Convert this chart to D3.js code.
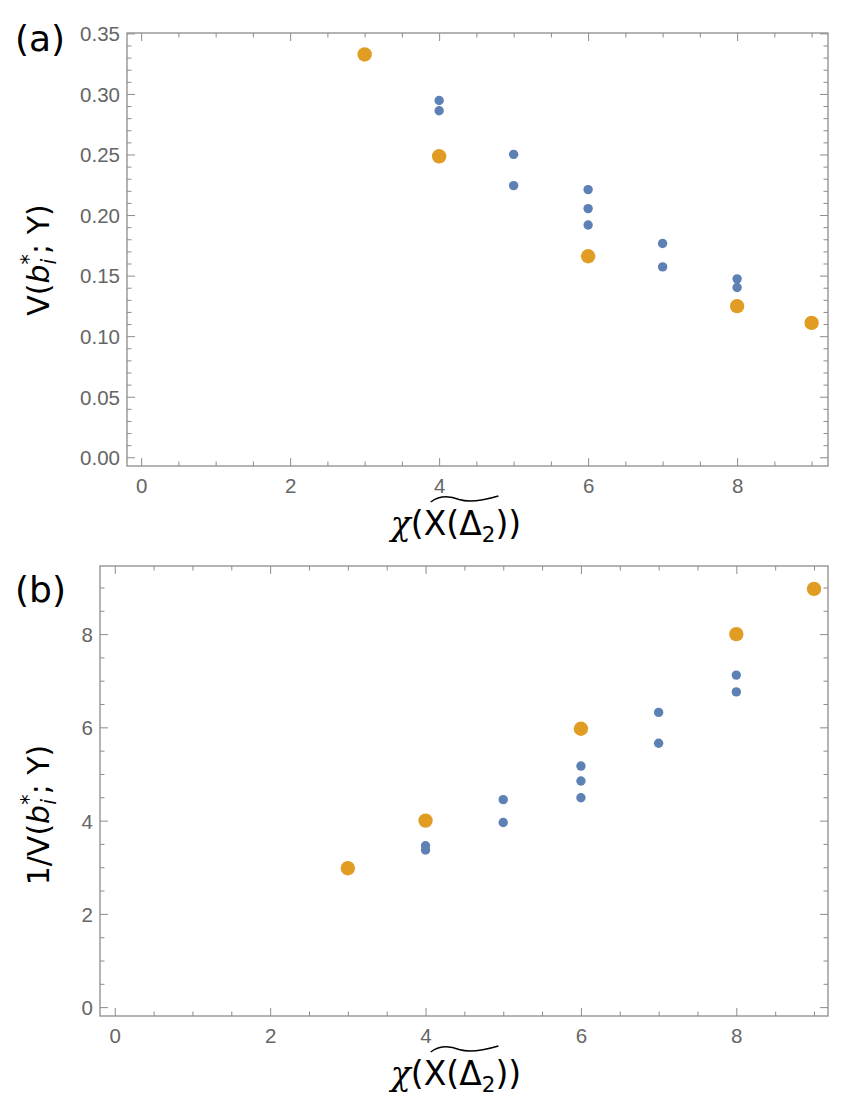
<!DOCTYPE html>
<html>
  <head>
    <meta charset="utf-8">
    <title>V(b*; Y) against chi</title>
    <script src="https://d3js.org/d3.v7.min.js"></script>
    <style>
      body { margin: 0; background: #fff; }
      .tick text { font-family: "Liberation Sans", Arial, sans-serif; font-size: 20.5px; fill: #666; }
      .tick line { stroke: #8c8c8c; stroke-width: 1; }
      .frame { fill: none; stroke: #8c8c8c; stroke-width: 1.3; }
    </style>
  </head>
  <body>
    <svg id="svg" width="850" height="1109"></svg>
    <script>
      // data
      var xTicks = [0, 2, 4, 6, 8];
      // panel (a): V(b*; Y)
      var aBlueX = [4, 4, 5, 5, 6, 6, 6, 7, 7, 8, 8];
      var aBlueY = [0.2946, 0.2861, 0.2501, 0.2243, 0.2210, 0.2053, 0.1918, 0.1765, 0.1572, 0.1473, 0.1402];
      var aOrangeX = [3, 4, 6, 8, 9];
      var aOrangeY = [0.3326, 0.2485, 0.1660, 0.1248, 0.1110];
      var aYTicks = [0, 0.05, 0.10, 0.15, 0.20, 0.25, 0.30, 0.35];
      // panel (b): 1/V(b*; Y)
      var bBlueX = [4, 4, 5, 5, 6, 6, 6, 7, 7, 8, 8];
      var bBlueY = [3.46, 3.37, 4.45, 3.96, 5.17, 4.85, 4.49, 6.32, 5.66, 7.12, 6.76];
      var bOrangeX = [3, 4, 6, 8, 9];
      var bOrangeY = [2.98, 4.0, 5.97, 8.0, 8.97];
      var bYTicks = [0, 2, 4, 6, 8];

      var blue = "#5e81b5", orange = "#e19c24";
      var svg = d3.select("#svg");

      // lay out text pieces one after another, returns total width
      function richText(g, parts, size) {
        var x = 0, held = 0;
        parts.forEach(function(p) {
          var fs = size * (p.scale || 1);
          var t = g.append("text")
            .attr("x", x)
            .attr("y", (p.dy || 0) * size)
            .style("font-family", p.family || "'DejaVu Sans', sans-serif")
            .style("font-style", p.italic ? "italic" : "normal")
            .style("font-size", fs + "px")
            .style("fill", "#000")
            .text(p.t);
          var w = t.node().getComputedTextLength();
          if (p.hold) { held = w; return; }
          p.start = x;
          x += Math.max(w, held) + (p.gap || 0) * size;
          p.end = x;
          held = 0;
        });
        return x;
      }

      function xLabel(cx, base) {
        var g = svg.append("g");
        var parts = [
          {t: "\u03c7", italic: true, family: "'DejaVu Serif', serif"},
          {t: "("},
          {t: "X"},
          {t: "(\u0394"},
          {t: "2", scale: 0.65, dy: 0.2},
          {t: "))"}
        ];
        var size = 33;
        var w = richText(g, parts, size);
        g.attr("transform", "translate(" + (cx - w / 2) + "," + base + ")");
        // wide tilde over X(Δ2)
        var x0 = parts[2].start + 7, x1 = parts[4].end + 3, ww = x1 - x0;
        var top = -39;
        g.append("path")
          .attr("d", "M" + x0 + "," + (top + 6) +
            " C" + (x0 + ww * 0.1) + "," + (top + 1) + " " + (x0 + ww * 0.25) + "," + (top - 1) + " " + (x0 + ww * 0.42) + "," + (top + 3.5) +
            " C" + (x0 + ww * 0.58) + "," + (top + 7) + " " + (x0 + ww * 0.8) + "," + (top + 4) + " " + x1 + "," + top)
          .attr("fill", "none").attr("stroke", "#000").attr("stroke-width", 1.4);
      }

      function yLabel(cx, cy, prefix) {
        var g = svg.append("g");
        var parts = [];
        if (prefix) parts.push({t: prefix});
        parts.push({t: "V("});
        parts.push({t: "b", italic: true});
        parts.push({t: "*", scale: 0.7, dy: -0.42, hold: true});
        parts.push({t: "i", italic: true, scale: 0.7, dy: 0.22});
        parts.push({t: "; Y)", gap: 0});
        var w = richText(g, parts, 30);
        g.attr("transform", "translate(" + cx + "," + cy + ") rotate(-90) translate(" + (-w / 2) + ",0)");
      }

      function panel(o) {
        var x = d3.scaleLinear().domain(o.xDomain).range([o.left, o.left + o.width]);
        var y = d3.scaleLinear().domain(o.yDomain).range([o.top + o.height, o.top]);
        var g = svg.append("g");
        var xMinor = d3.range(0, 9.01, 0.5).filter(function(v) { return xTicks.indexOf(v) < 0; });
        var yMinor = d3.range(0, o.yDomain[1] + 1e-9, o.yMinorStep)
          .map(function(v) { return +v.toFixed(4); })
          .filter(function(v) { return o.yTicks.every(function(t) { return Math.abs(t - v) > 1e-6; }); });
        function axis(maker, scale, vals, len, pos, labels, fmt, pad) {
          var a = maker(scale).tickValues(vals).tickSizeInner(-len).tickSizeOuter(0).tickPadding(pad || 0);
          a.tickFormat(labels ? fmt : function() { return ""; });
          var ga = g.append("g").attr("transform", pos).call(a);
          ga.select(".domain").remove();
          return ga;
        }
        var bottom = "translate(0," + (o.top + o.height) + ")";
        var topT = "translate(0," + o.top + ")";
        var leftT = "translate(" + o.left + ",0)";
        var rightT = "translate(" + (o.left + o.width) + ",0)";
        axis(d3.axisBottom, x, xTicks, 8, bottom, true, d3.format("d"), 12);
        axis(d3.axisBottom, x, xMinor, 4.5, bottom, false);
        axis(d3.axisTop, x, xTicks, 8, topT, false);
        axis(d3.axisTop, x, xMinor, 4.5, topT, false);
        axis(d3.axisLeft, y, o.yTicks, 8, leftT, true, o.yFormat, 7)
          .selectAll("text").attr("dy", "0.36em");
        axis(d3.axisLeft, y, yMinor, 4.5, leftT, false);
        axis(d3.axisRight, y, o.yTicks, 8, rightT, false);
        axis(d3.axisRight, y, yMinor, 4.5, rightT, false);
        g.append("rect").attr("class", "frame")
          .attr("x", o.left).attr("y", o.top).attr("width", o.width).attr("height", o.height);
        // points
        g.selectAll(".blue").data(o.blueX).enter().append("circle")
          .attr("cx", function(d) { return x(d); })
          .attr("cy", function(d, i) { return y(o.blueY[i]); })
          .attr("r", 4.7).attr("fill", blue);
        g.selectAll(".orange").data(o.orangeX).enter().append("circle")
          .attr("cx", function(d) { return x(d); })
          .attr("cy", function(d, i) { return y(o.orangeY[i]); })
          .attr("r", 7.2).attr("fill", orange);
        // panel tag
        svg.append("text").attr("x", 15).attr("y", o.tagY)
          .style("font-family", "'DejaVu Sans', sans-serif").style("font-size", "36px")
          .text(o.tag);
        xLabel(o.xLabelX, o.top + o.height + 69);
        yLabel(49, o.yLabelY, o.yPrefix);
      }

      panel({
        left: 127, top: 33, width: 701, height: 433,
        xDomain: [-0.19, 9.22], yDomain: [-0.0072, 0.3503],
        yTicks: aYTicks, yMinorStep: 0.01, yFormat: d3.format(".2f"),
        blueX: aBlueX, blueY: aBlueY, orangeX: aOrangeX, orangeY: aOrangeY,
        tag: "(a)", tagY: 51, yPrefix: "", xLabelX: 456, yLabelY: 260
      });
      panel({
        left: 100, top: 566, width: 728, height: 450,
        xDomain: [-0.19, 9.18], yDomain: [-0.19, 9.46],
        yTicks: bYTicks, yMinorStep: 0.5, yFormat: d3.format("d"),
        blueX: bBlueX, blueY: bBlueY, orangeX: bOrangeX, orangeY: bOrangeY,
        tag: "(b)", tagY: 602, yPrefix: "1/", xLabelX: 456, yLabelY: 815
      });
    </script>
  </body>
</html>
